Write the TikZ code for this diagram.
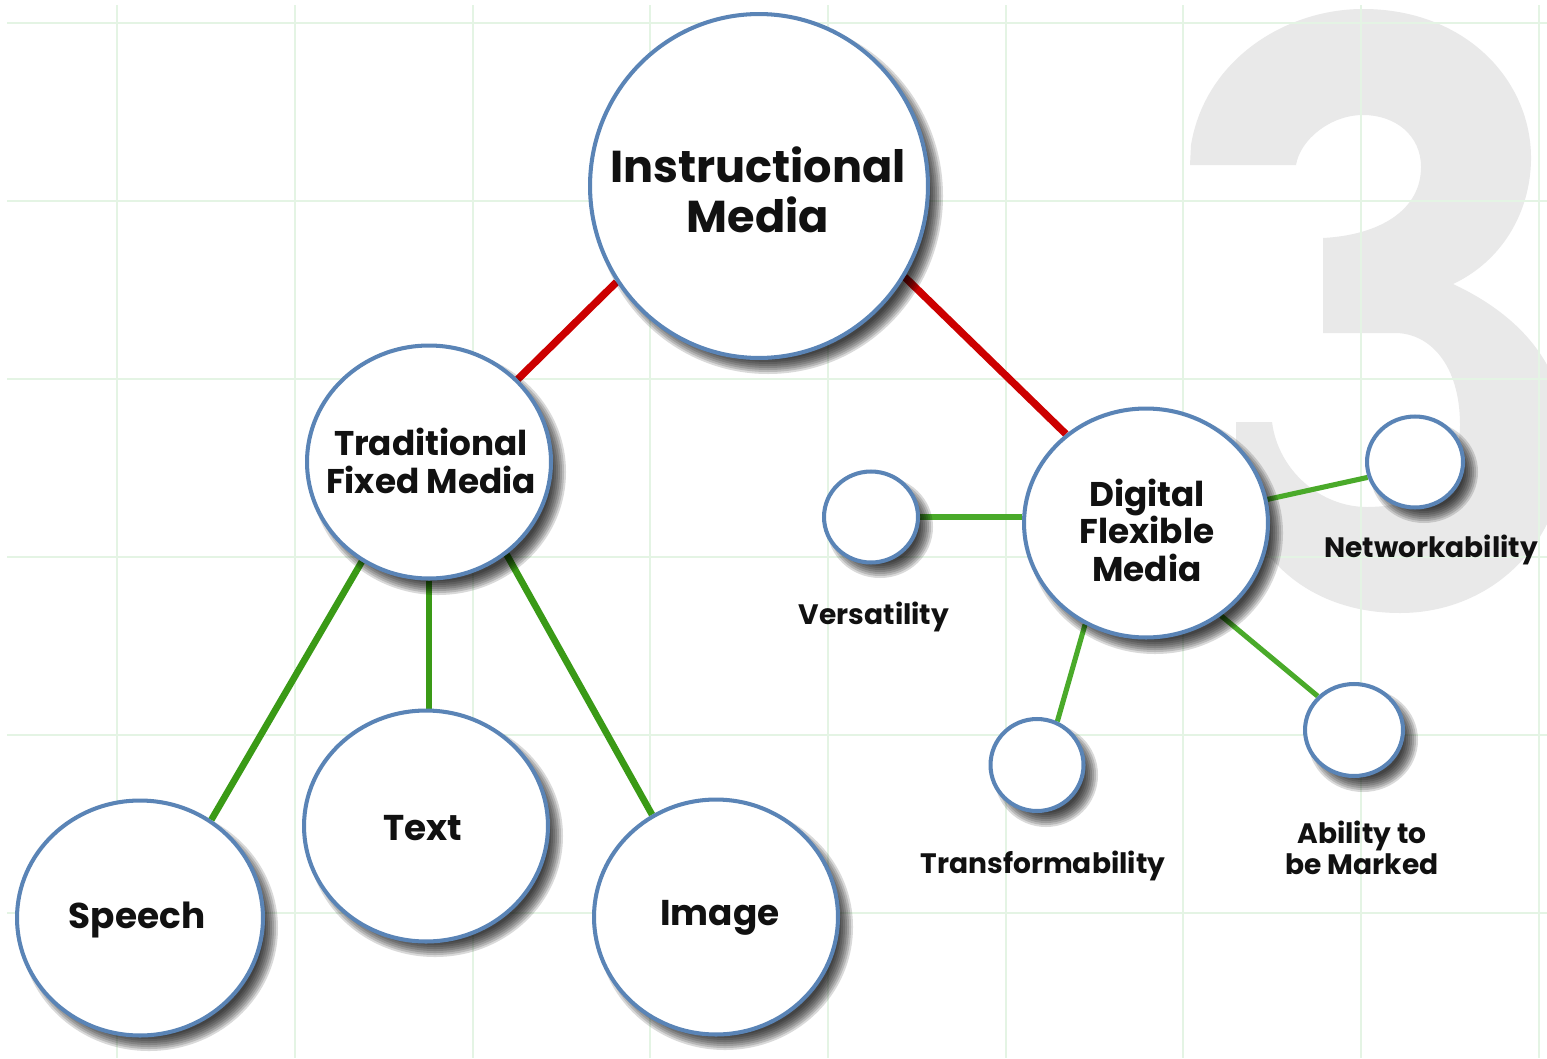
\documentclass[tikz,border=0pt]{standalone}
\usepackage{fontspec}
\setmainfont{Poppins}
\usetikzlibrary{shapes.geometric,backgrounds}
\definecolor{bord}{HTML}{5A84B6}
\definecolor{redline}{HTML}{CC0000}
\definecolor{greenL}{HTML}{3A9A16}
\definecolor{greenR}{HTML}{4AAA2A}
\definecolor{gridc}{HTML}{E4F4E4}
\definecolor{threec}{HTML}{E9E9E9}
\definecolor{ink}{HTML}{111111}
\tikzset{
  bubble/.style={ellipse, draw=bord, line width=2.3pt, fill=white, inner sep=0pt},
  shadowlayer/.style={fill=black, fill opacity=0.15, draw=none},
  redlink/.style={draw=redline, line width=4.2pt},
  greenlink/.style={draw=greenL, line width=3.8pt},
  greenthin/.style={draw=greenR, line width=2.9pt},
  bigtext/.style={text=ink, align=center, font=\bfseries\fontsize{25.4}{28.3}\selectfont},
  midtext/.style={text=ink, align=center, font=\bfseries\fontsize{19.5}{21.3}\selectfont},
  leaftext/.style={text=ink, align=center, font=\bfseries\fontsize{20.4}{22}\selectfont},
  smalltext/.style={text=ink, align=center, font=\bfseries\fontsize{16}{17.6}\selectfont},
}
% soft shadow: stacked translucent ellipses, offset to the lower right
\newcommand{\softshadow}[3]{%
  \foreach \k in {0,1,2,3,4,5,6,7}{%
    \path[shadowlayer] ([shift={(9,10)}]#1.center) ellipse [x radius={#2+6-2*\k}, y radius={#3+6-2*\k}];
  }%
}
\begin{document}
\begin{tikzpicture}[x=0.02cm, y=-0.02cm]
\useasboundingbox (0,0) rectangle (1547,1058);
\begin{scope}[on background layer]
\fill[white] (0,0) rectangle (1547,1058);
\begin{scope}
\clip (0,0) rectangle (1547,1058);
% large watermark numeral "3"
\fill[threec]
  (1190,165) -- (1191,145)
  .. controls (1205,60) and (1285,9) .. (1363,9)
  .. controls (1465,9) and (1532,80) .. (1531,160)
  .. controls (1530,215) and (1500,262) .. (1453,284)
  .. controls (1530,320) and (1566,375) .. (1566,440)
  .. controls (1566,545) and (1490,613) .. (1400,613)
  .. controls (1300,613) and (1240,545) .. (1236,470)
  -- (1236,422) -- (1272,422)
  .. controls (1278,470) and (1320,507) .. (1367,507)
  .. controls (1430,507) and (1460,470) .. (1460,425)
  .. controls (1460,365) and (1430,333) .. (1395,333)
  -- (1323,333) -- (1323,238)
  .. controls (1380,235) and (1421,210) .. (1421,167)
  .. controls (1421,135) and (1395,115) .. (1363,115)
  .. controls (1330,115) and (1300,140) .. (1296,165)
  -- cycle;
\end{scope}
\foreach \gx in {117,295,473,650,828,1006,1183,1361,1539}
  \draw[gridc, line width=1.6pt] (\gx,5) -- (\gx,1058);
\foreach \gy in {23,201,379,557,735,913}
  \draw[gridc, line width=1.6pt] (7,\gy) -- (1547,\gy);
\end{scope}

% bubbles
\node[bubble, minimum width=6.76cm, minimum height=6.88cm] (inst) at (759,186) {};
\node[bubble, minimum width=4.88cm, minimum height=4.66cm] (trad) at (429,462) {};
\node[bubble, minimum width=4.92cm, minimum height=4.70cm] (speech) at (140,918) {};
\node[bubble, minimum width=4.88cm, minimum height=4.62cm] (text) at (426,826) {};
\node[bubble, minimum width=4.88cm, minimum height=4.70cm] (image) at (716,917) {};
\node[bubble, minimum width=4.88cm, minimum height=4.58cm] (dig) at (1146,523) {};
\node[bubble, minimum width=1.88cm, minimum height=1.82cm] (vers) at (871,517) {};
\node[bubble, minimum width=1.86cm, minimum height=1.84cm] (trans) at (1037,765) {};
\node[bubble, minimum width=1.96cm, minimum height=1.84cm] (abil) at (1354,730) {};
\node[bubble, minimum width=1.92cm, minimum height=1.82cm] (net) at (1415,462) {};

% connectors and shadows (behind the bubbles, above the grid)
\begin{scope}[on background layer]
\draw[redlink] (inst.214) -- (trad.43);
\draw[redlink] (inst.328) -- (dig.132);
\draw[greenlink] (trad.236) -- (speech.54);
\draw[greenlink] (trad.south) -- (trad.south |- text.north);
\draw[greenlink] (trad.310) -- (image.122);
\draw[greenthin] (vers.east) -- (vers.east -| dig.west);
\draw[greenthin] (dig.11) -- (net.198);
\draw[greenthin] (dig.239) -- (trans.65);
\draw[greenthin] (dig.309) -- (abil.137);
\softshadow{inst}{169}{172}
\softshadow{trad}{122}{117}
\softshadow{speech}{123}{117}
\softshadow{text}{122}{115}
\softshadow{image}{122}{117}
\softshadow{dig}{122}{115}
\softshadow{vers}{47}{45}
\softshadow{trans}{46}{46}
\softshadow{abil}{49}{46}
\softshadow{net}{48}{45}
\end{scope}

% texts
\node[bigtext] (instT) at (758,190) {Instructional\\Media};
\node[midtext] (tradT) at (431,461) {Traditional\\Fixed Media};
\node[midtext] (digT) at (1147,530) {Digital\\Flexible\\Media};
\node[leaftext] (speechT) at (137,920) {Speech};
\node[leaftext] (textT) at (423,828) {Text};
\node[leaftext] (imageT) at (720,918) {Image};
\node[smalltext] (versT) at (874,617) {Versatility};
\node[smalltext] (netT) at (1431,550) {Networkability};
\node[smalltext] (transT) at (1043,866) {Transformability};
\node[smalltext] (abilT) at (1362,848) {Ability to\\be Marked};
\end{tikzpicture}
\end{document}
